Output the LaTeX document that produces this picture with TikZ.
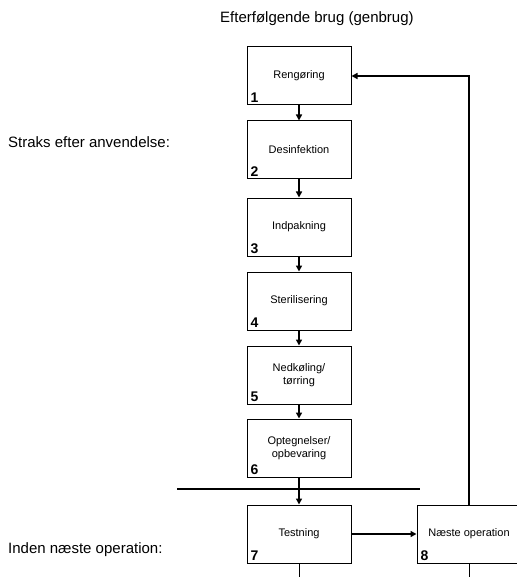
\documentclass[tikz,border=0pt]{standalone}
\usepackage{fontspec}
\setmainfont{Liberation Sans}
\usetikzlibrary{arrows.meta}
\begin{document}
\begin{tikzpicture}[x=1pt,y=-1pt,
  stepbox/.style={draw,line width=1pt,minimum width=104pt,minimum height=58pt,
    inner sep=0pt,align=center,font=\fontsize{11}{13}\selectfont},
  nextbox/.style={stepbox,minimum width=101pt},
  num/.style={anchor=base west,inner sep=0pt,font=\fontsize{14}{16}\selectfont\bfseries},
  side/.style={anchor=base west,inner sep=0pt,font=\fontsize{15}{18}\selectfont},
  flow/.style={line width=2pt,-{Triangle[length=6pt,width=6pt]}},
  thin/.style={line width=1pt}]
\useasboundingbox (0,0) rectangle (516,577);

% section headings
\node[side] (tHead) at (220,23) {Efterfølgende brug (genbrug)};
\node[side] (tNow) at (8,148) {Straks efter anvendelse:};
\node[side] (tNext) at (8,553) {Inden næste operation:};

% process steps
\node[stepbox] (b1) at (299,76) {Rengøring};
\node[stepbox] (b2) at (299,150) {Desinfektion};
\node[stepbox] (b3) at (299,227) {Indpakning};
\node[stepbox] (b4) at (299,301) {Sterilisering};
\node[stepbox] (b5) at (299,375) {Nedkøling/\\tørring};
\node[stepbox] (b6) at (299,448) {Optegnelser/\\opbevaring};
\node[stepbox] (b7) at (299,534) {Testning};
\node[nextbox] (b8) at (467.5,534) {\hspace*{3pt}Næste operation};

% step numbers
\foreach \i in {1,...,8}
  \node[num] (n\i) at ([shift={(4,-3)}]b\i.south west) {\i};

% flow between steps
\foreach \a/\b in {1/2,2/3,3/4,4/5,5/6,6/7}
  \draw[flow] (b\a) -- (b\b);
\draw[flow] (b7) -- (b8);

% return path to cleaning
\coordinate (up) at (469,0);
\coordinate (ret) at (up |- b1.east);
\draw[flow] (up |- b8.north) -- (ret) -- (b1.east);

% separator between the phases
\coordinate (sepL) at (177,489);
\coordinate (sepR) at (420,489);
\draw[line width=2pt] (sepL) -- (sepR);

% lines continuing below
\coordinate (end7) at (299,577);
\coordinate (end8) at (469,577);
\draw[thin] (b7.south) -- (end7);
\draw[thin] (up |- b8.south) -- (end8);
\end{tikzpicture}
\end{document}
